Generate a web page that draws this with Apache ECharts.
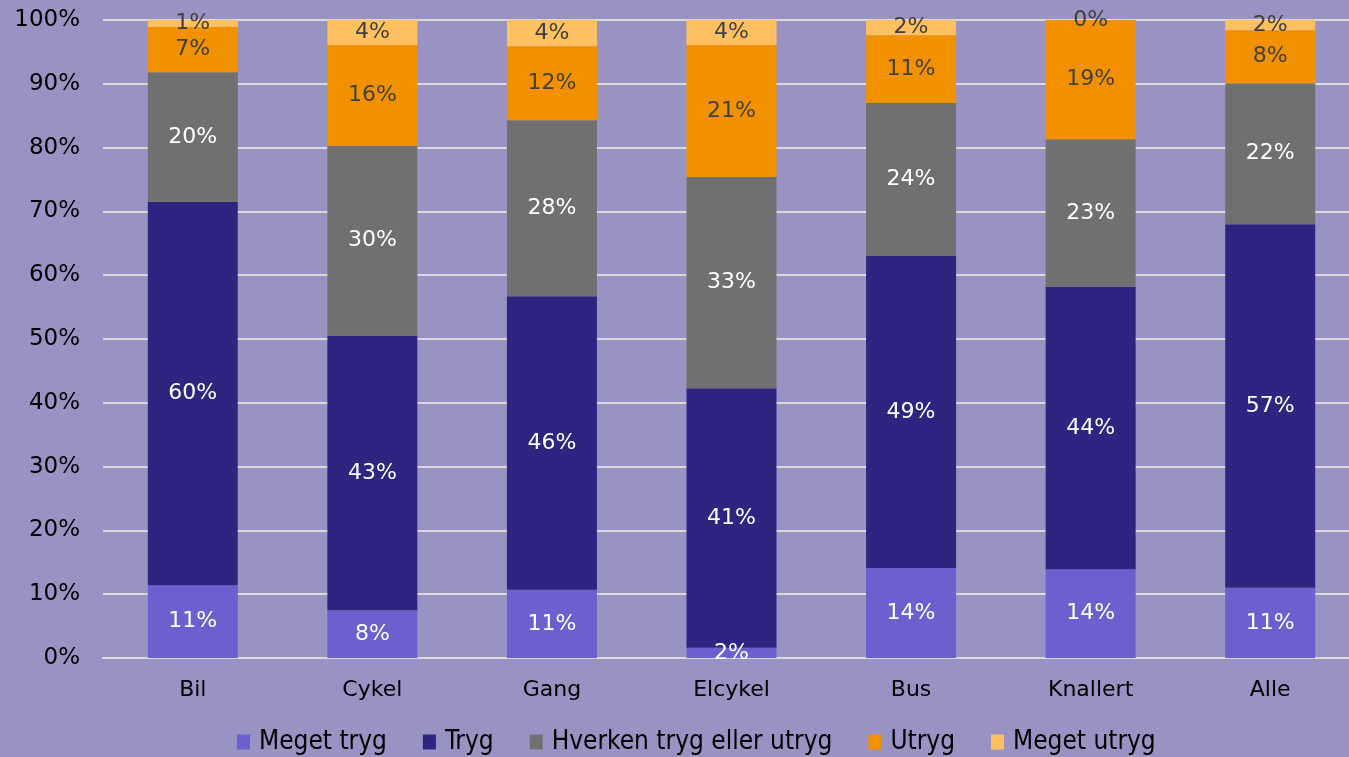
<!DOCTYPE html>
<html>
<head>
<meta charset="utf-8">
<script src="https://cdn.jsdelivr.net/npm/echarts@6/dist/echarts.min.js"></script>
<style>
  html, body { margin: 0; padding: 0; background: #9993C4; }
  #chart { width: 1349px; height: 757px; }
</style>
</head>
<body>
<div id="chart"></div>
<script>
// kategorier og andele (%)
const categories = ['Bil', 'Cykel', 'Gang', 'Elcykel', 'Bus', 'Knallert', 'Alle']
const megetTryg = [11.4, 7.5, 10.7, 1.6, 14.1, 13.9, 11.0]
const tryg = [60.1, 43.0, 46.0, 40.7, 48.9, 44.3, 57.0]
const hverken = [20.3, 29.8, 27.6, 33.1, 24.0, 23.1, 22.1]
const utryg = [7.1, 15.8, 11.6, 20.7, 10.6, 18.7, 8.3]
const megetUtryg = [1.1, 3.9, 4.1, 3.9, 2.4, 0, 1.6]
const yTicks = [0, 10, 20, 30, 40, 50, 60, 70, 80, 90, 100]

const chart = echarts.init(document.getElementById('chart'))

const mkSeries = (name, data, color, labelColor) => ({
  name: name,
  type: 'bar',
  stack: 'total',
  data: data,
  barWidth: 90,
  itemStyle: { color: color },
  label: {
    show: true,
    position: 'inside',
    color: labelColor,
    fontFamily: 'DejaVu Sans',
    fontSize: 22,
    formatter: (p) => Math.round(p.value) + '%'
  }
})

const option = {
  backgroundColor: '#9993C4',
  animation: false,
  grid: {
    left: 103,
    right: -11,
    top: 20,
    bottom: 99,
    containLabel: false,
    outerBoundsMode: 'none'
  },
  legend: {
    top: 724,
    left: 232,
    itemWidth: 13,
    itemHeight: 15,
    itemGap: 36,
    icon: 'rect',
    textStyle: {
      color: '#000',
      fontFamily: 'DejaVu Sans Condensed',
      fontSize: 26,
      padding: [0, 0, 0, 4]
    }
  },
  xAxis: {
    type: 'category',
    data: categories,
    axisTick: { show: false },
    axisLine: { lineStyle: { color: '#D9D9D9', width: 2 } },
    axisLabel: {
      color: '#000',
      fontFamily: 'DejaVu Sans',
      fontSize: 22,
      margin: 21
    }
  },
  yAxis: {
    type: 'value',
    min: yTicks[0],
    max: yTicks[yTicks.length - 1],
    interval: 10,
    axisLabel: {
      color: '#000',
      fontFamily: 'DejaVu Sans',
      fontSize: 23,
      margin: 23,
      formatter: '{value}%'
    },
    splitLine: { lineStyle: { color: '#D9D9D9', width: 2 } }
  },
  series: [
    mkSeries('Meget tryg', megetTryg, '#6B60CE', '#fff'),
    mkSeries('Tryg', tryg, '#2F2480', '#fff'),
    mkSeries('Hverken tryg eller utryg', hverken, '#707070', '#fff'),
    mkSeries('Utryg', utryg, '#F29100', '#404040'),
    mkSeries('Meget utryg', megetUtryg, '#FFC061', '#404040')
  ]
}

chart.setOption(option)
</script>
</body>
</html>
